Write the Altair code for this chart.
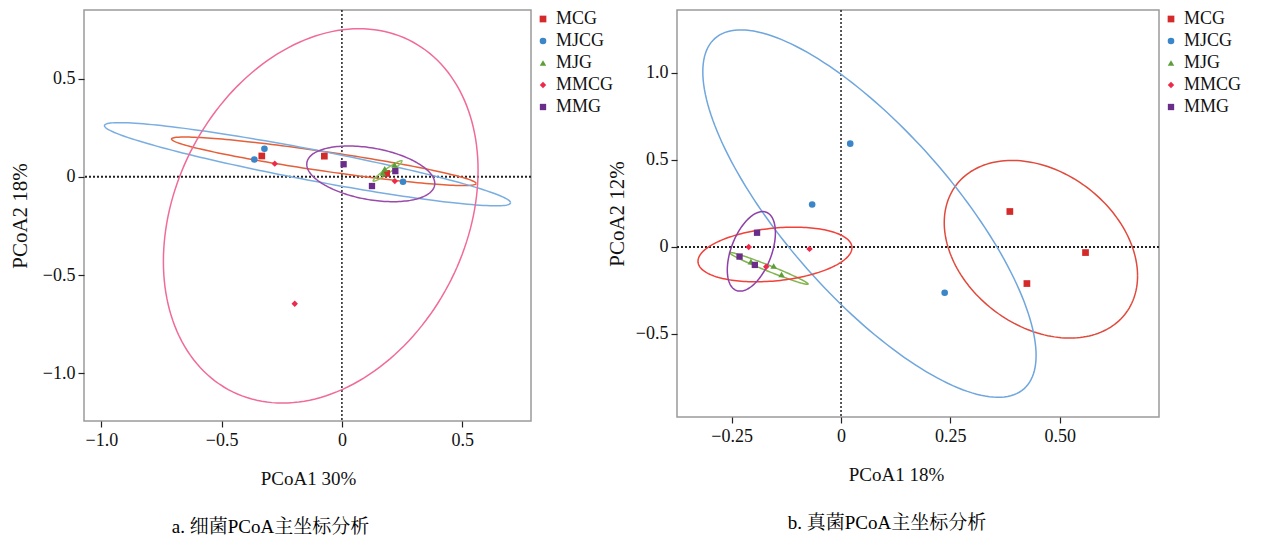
import numpy as np
import pandas as pd
import altair as alt

GROUPS = ["MCG", "MJCG", "MJG", "MMCG", "MMG"]
SHAPES = ["square", "circle", "triangle-up", "diamond", "square"]
SIZES = [45, 40, 45, 22, 45]
POINT_COLORS = ["#d42a2a", "#3a86c8", "#5e9e3a", "#ee2a4a", "#6b2d8a"]

# ---- panel a: bacteria ----
A_X = {
    "MCG": [-0.333, -0.073, 0.186],
    "MJCG": [-0.364, -0.322, 0.254],
    "MJG": [0.170, 0.178, 0.219],
    "MMCG": [-0.279, -0.196, 0.220],
    "MMG": [0.007, 0.125, 0.222],
}
A_Y = {
    "MCG": [0.106, 0.105, 0.017],
    "MJCG": [0.088, 0.143, -0.025],
    "MJG": [0.020, 0.040, 0.061],
    "MMCG": [0.067, -0.646, -0.022],
    "MMG": [0.064, -0.047, 0.029],
}
# ellipse: centre x, centre y, half width, y-offset of rightmost point, half vertical chord at centre
A_ELL = {
    "MCG": (-0.075, 0.079, 0.633, -0.113, 0.050),
    "MJCG": (-0.143, 0.064, 0.844, -0.196, 0.080),
    "MJG": (0.190, 0.030, 0.060, 0.050, 0.015),
    "MMCG": (-0.088, -0.199, 0.654, 0.232, 0.924),
    "MMG": (0.120, 0.015, 0.266, -0.049, 0.133),
}
A_ELL_COLORS = ["#e5603a", "#7aaee0", "#8cbf5a", "#f06b9a", "#9a4aaa"]

# ---- panel b: fungi ----
B_X = {
    "MCG": [0.386, 0.559, 0.425],
    "MJCG": [0.021, -0.066, 0.237],
    "MJG": [-0.206, -0.154, -0.136],
    "MMCG": [-0.211, -0.072, -0.171],
    "MMG": [-0.192, -0.232, -0.197],
}
B_Y = {
    "MCG": [0.204, -0.032, -0.210],
    "MJCG": [0.594, 0.244, -0.263],
    "MJG": [-0.084, -0.109, -0.158],
    "MMCG": [0.000, -0.011, -0.114],
    "MMG": [0.082, -0.055, -0.103],
}
B_ELL = {
    "MCG": (0.457, -0.013, 0.221, -0.153, 0.487),
    "MJCG": (0.065, 0.192, 0.381, -0.815, 0.671),
    "MJG": (-0.165, -0.123, 0.090, -0.090, 0.018),
    "MMCG": (-0.151, -0.043, 0.176, 0.039, 0.152),
    "MMG": (-0.205, -0.025, 0.055, 0.107, 0.202),
}
B_ELL_COLORS = ["#e04a3c", "#6fa6dd", "#82b450", "#f2403a", "#8e3fa8"]

FONT = "Liberation Serif, Noto Serif CJK SC, Noto Sans CJK SC"


def points_df(xs, ys):
    rows = []
    for g in GROUPS:
        for x, y in zip(xs[g], ys[g]):
            rows.append({"group": g, "x": x, "y": y})
    return pd.DataFrame(rows)


def ellipse_df(ell, colors):
    t = np.linspace(0, 2 * np.pi, 181)
    frames = []
    for g, c in zip(GROUPS, colors):
        cx, cy, w, r, d = ell[g]
        frames.append(pd.DataFrame({
            "group": g, "col": c, "i": np.arange(len(t)),
            "x": cx + w * np.cos(t),
            "y": cy + r * np.cos(t) + d * np.sin(t),
        }))
    return pd.concat(frames, ignore_index=True)


def panel(xs, ys, ell, ell_colors, xdom, ydom, xticks, yticks, xfmt, yfmt,
          xtitle, ytitle, caption, w, h, cap_dx, ytitle_pad, xtitle_x):
    xs_ = alt.Scale(domain=xdom, nice=False, zero=False)
    ys_ = alt.Scale(domain=ydom, nice=False, zero=False)
    xax = alt.Axis(values=xticks, title=xtitle, grid=False, domain=False,
                   labelExpr=f"datum.value == 0 ? '0' : format(datum.value, '{xfmt}')",
                   titlePadding=20, labelPadding=4, titleX=xtitle_x)
    yax = alt.Axis(values=yticks, title=ytitle, grid=False, domain=False,
                   labelExpr=f"datum.value == 0 ? '0' : format(datum.value, '{yfmt}')",
                   titlePadding=ytitle_pad, labelPadding=3, titleFontSize=21)
    zero = pd.DataFrame({"v": [0]})
    vline = alt.Chart(zero).mark_rule(color="#222", strokeDash=[2, 2], strokeWidth=1.5).encode(
        x=alt.X("v:Q", scale=xs_, axis=xax))
    hline = alt.Chart(zero).mark_rule(color="#222", strokeDash=[2, 2], strokeWidth=2).encode(
        y=alt.Y("v:Q", scale=ys_, axis=yax))
    e = alt.Chart(ellipse_df(ell, ell_colors)).mark_line(strokeWidth=1.5, clip=True).encode(
        x=alt.X("x:Q", scale=xs_, axis=xax),
        y=alt.Y("y:Q", scale=ys_, axis=yax),
        stroke=alt.Stroke("col:N", scale=None),
        detail="group:N",
        order="i:Q",
    )
    p = alt.Chart(points_df(xs, ys)).mark_point(filled=True, opacity=1).encode(
        x=alt.X("x:Q", scale=xs_, axis=xax),
        y=alt.Y("y:Q", scale=ys_, axis=yax),
        color=alt.Color("group:N", scale=alt.Scale(domain=GROUPS, range=POINT_COLORS),
                        legend=alt.Legend(title=None)),
        shape=alt.Shape("group:N", scale=alt.Scale(domain=GROUPS, range=SHAPES),
                        legend=alt.Legend(title=None)),
        size=alt.Size("group:N", scale=alt.Scale(domain=GROUPS, range=SIZES),
                      legend=alt.Legend(title=None)),
    )
    return alt.layer(vline, hline, e, p).properties(
        width=w, height=h,
        title=alt.TitleParams(caption, orient="bottom", anchor="middle", offset=30,
                              dx=cap_dx, fontSize=19, font=FONT, fontWeight="normal"),
    )


left = panel(A_X, A_Y, A_ELL, A_ELL_COLORS, [-1.072, 0.786], [-1.243, 0.849],
             [-1.0, -0.5, 0, 0.5], [-1.0, -0.5, 0, 0.5], ".1f", ".1f",
             "PCoA1 30%", "PCoA2 18%", "a.  细菌PCoA主坐标分析", 447, 411, -37, 12, 224)
right = panel(B_X, B_Y, B_ELL, B_ELL_COLORS, [-0.375, 0.727], [-0.977, 1.362],
              [-0.25, 0, 0.25, 0.5], [-0.5, 0, 0.5, 1.0], ".2f", ".1f",
              "PCoA1 18%", "PCoA2 12%", "b.  真菌PCoA主坐标分析", 482, 407, -31, 8, 219)

chart = alt.hconcat(left, right, spacing=-10).resolve_scale(
    color="independent", shape="independent", size="independent",
    x="independent", y="independent",
).properties(padding={"left": 0, "top": 0, "right": 0, "bottom": 0}).configure(
    font=FONT,
).configure_view(
    stroke="#9a9a9a", strokeWidth=1.5,
).configure_axis(
    labelFont=FONT, titleFont=FONT, labelFontSize=18, titleFontSize=19,
    titleFontWeight="normal", labelColor="#111", titleColor="#111",
    tickColor="#222", tickSize=6, tickWidth=1.2,
).configure_legend(
    labelFont=FONT, labelFontSize=18, labelColor="#111", offset=3, padding=0,
    rowPadding=4, symbolStrokeWidth=0,
)

chart.save("out.html", embed_options={"renderer": "svg", "actions": False})
